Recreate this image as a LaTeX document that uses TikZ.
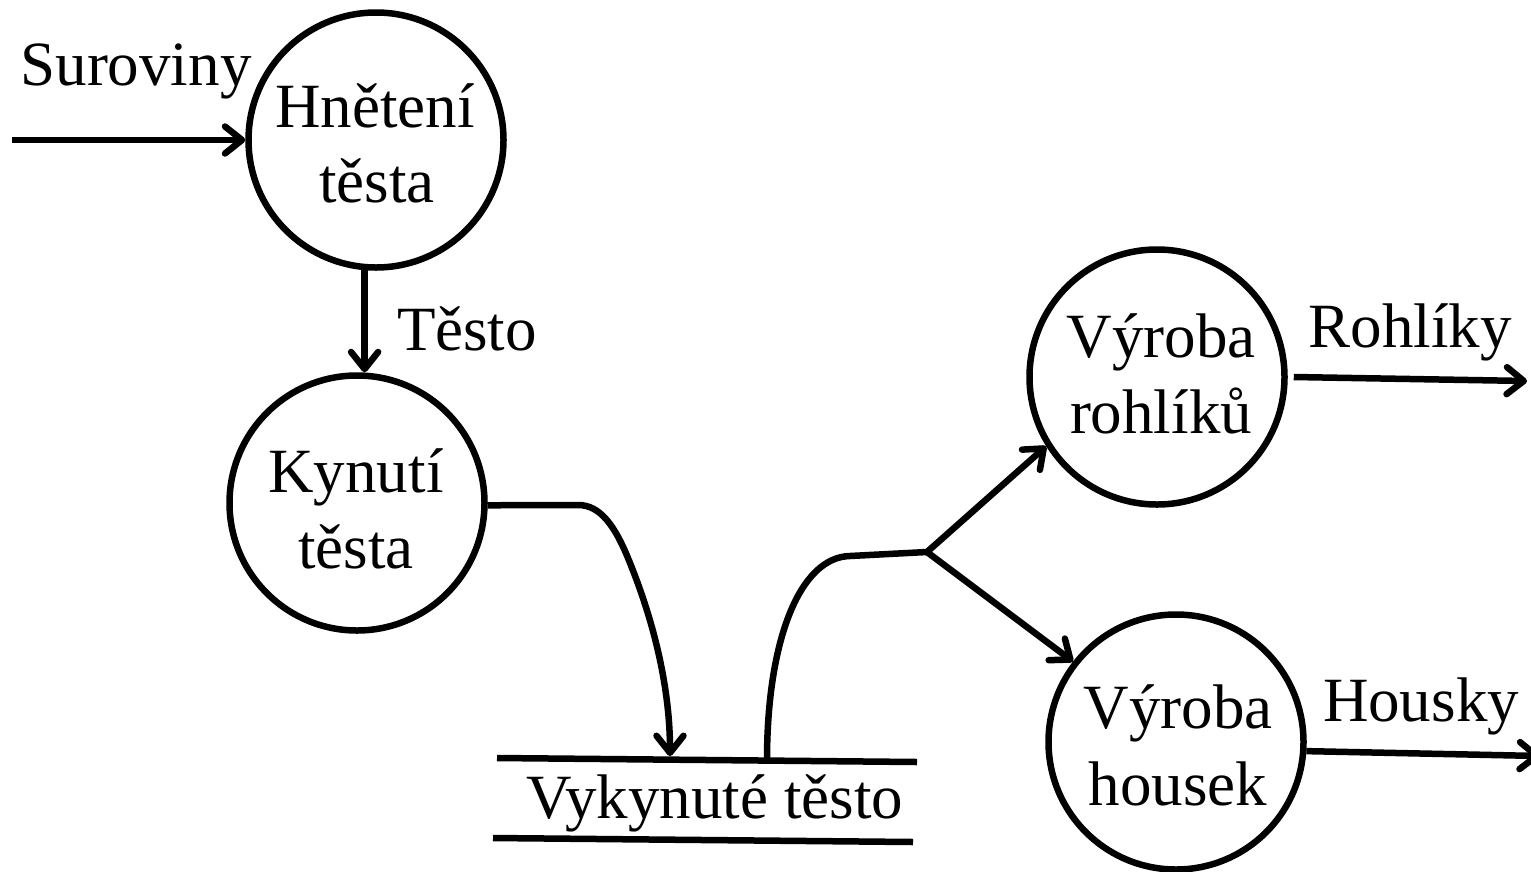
\documentclass[tikz,border=0pt]{standalone}
\usepackage{fontspec}
\setmainfont{Liberation Serif}
\usetikzlibrary{arrows.meta}
\begin{document}
\begin{tikzpicture}[x=1pt,y=-1pt,
  proc/.style={circle,draw,line width=6.5pt,minimum size=255pt,inner sep=0pt},
  lbl/.style={font=\fontsize{63}{75}\selectfont,inner sep=0pt,anchor=base},
  flow/.style={line width=6.5pt,-{Straight Barb[length=17pt,width=27pt,round]}},
  plainline/.style={line width=6.5pt}]
\useasboundingbox (0,0) rectangle (1531,871);
% processes
\node[proc] (h) at (376,140) {};
\node[proc] (k) at (357,503) {};
\node[proc] (r) at (1157,377) {};
\node[proc] (hs) at (1176,742) {};
% texts in processes
\node[lbl] (h1) at (375,127) {Hnětení};
\node[lbl] (h2) at (377,202) {těsta};
\node[lbl] (k1) at (356,492) {Kynutí};
\node[lbl] (k2) at (356,568) {těsta};
\node[lbl] (r1) at (1161,357) {Výroba};
\node[lbl] (r2) at (1161,433) {rohlíků};
\node[lbl] (hs1) at (1178,728) {Výroba};
\node[lbl] (hs2) at (1178,805) {housek};
% flow labels
\node[lbl] (ls) at (136,85) {Suroviny};
\node[lbl] (lt) at (467,350) {Těsto};
\node[lbl] (lr) at (1410,347) {Rohlíky};
\node[lbl] (lh) at (1421,721) {Housky};
% store
\node[lbl] (st) at (715,818) {Vykynuté těsto};
\coordinate (st1a) at (497,758);
\coordinate (st1b) at (917,762);
\coordinate (st2a) at (493,838);
\coordinate (st2b) at (913,842);
\draw[plainline] (st1a) -- (st1b);
\draw[plainline] (st2a) -- (st2b);
\coordinate (stin) at (670,756);
\coordinate (stout) at (767,760);
% free ends and junction
\coordinate (src) at (12,140);
\coordinate (j) at (927,552);
\coordinate (rout) at (1527,381);
\coordinate (hout) at (1540,756);
% connectors
\draw[flow] (src) -- (h.west);
\draw[flow] (h.265) -- (h.265 |- k.north);
\draw[flow] (k.-1) -- (578,505) .. controls (600,505) and (615,525) .. (630,563)
  .. controls (655,625) and (670,690) .. (stin);
\draw[plainline,line join=round] (stout) .. controls (767,640) and (800,557) .. (850,556) -- (j);
\draw[flow] (j) -- (r.212);
\draw[flow] (j) -- (hs.142);
\draw[flow] ([xshift=6pt]r.east) -- (rout);
\draw[flow] (hs.-4) -- (hout);
\end{tikzpicture}
\end{document}
